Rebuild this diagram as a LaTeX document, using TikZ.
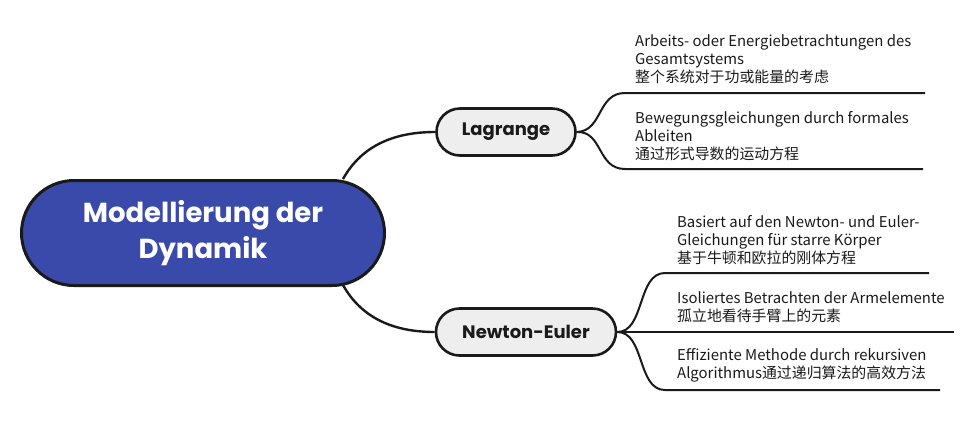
\documentclass[tikz,border=0pt]{standalone}
\usepackage{fontspec}
\setmainfont{Poppins}
\newfontfamily\cjk{Noto Sans CJK SC}
\usetikzlibrary{shapes.misc}
\definecolor{rootblue}{HTML}{3A4AAB}
\definecolor{topicgray}{HTML}{EEEEEE}
\definecolor{inkline}{HTML}{1A1A1A}

\tikzset{
  rootnode/.style={rounded rectangle,draw=inkline,line width=3pt,fill=rootblue,
    text=white,font=\fontsize{27.5}{35.5}\selectfont\bfseries,align=center,
    minimum width=363pt,minimum height=105pt,inner sep=0pt},
  topicnode/.style={rounded rectangle,draw=inkline,line width=2.6pt,fill=topicgray,
    text=inkline,font=\fontsize{18}{22}\selectfont\bfseries,
    minimum height=47pt,inner sep=0pt},
  leaftext/.style={anchor=south west,align=left,inner sep=0pt,text=inkline,
    font=\cjk\fontsize{14.9}{17.8}\selectfont},
  branch/.style={draw=inkline,line width=2.4pt},
  twig/.style={draw=inkline,line width=2pt}
}

\begin{document}
\begin{tikzpicture}[x=1pt,y=-1pt]
\useasboundingbox (0,0) rectangle (978,424);
\node[rootnode] (root) at (203,233) {Modellierung der\\Dynamik};
\node[topicnode,minimum width=139pt] (lag) at (506,132) {Lagrange};
\node[topicnode,minimum width=180pt] (ne) at (526,332) {Newton-Euler};
% Lagrange
\coordinate (l1a) at (625,93);
\coordinate (l1b) at (925,93);
\coordinate (l2a) at (625,169);
\coordinate (l2b) at (923,169);
% Newton-Euler
\coordinate (n1a) at (665,273);
\coordinate (n1b) at (929,273);
\coordinate (n2b) at (954,332);
\coordinate (n3a) at (665,390);
\coordinate (n3b) at (940,390);
\draw[branch] (343,179) .. controls (362,145) and (395,132) .. (lag.west);
\draw[branch] (343,285) .. controls (362,319) and (395,332) .. (ne.west);
\draw[twig] (lag.east) .. controls (603,131) and (597,93) .. (l1a) -- (l1b);
\draw[twig] (lag.east) .. controls (603,131) and (597,169) .. (l2a) -- (l2b);
\draw[twig] (ne.east) .. controls (645,332) and (637,273) .. (n1a) -- (n1b);
\draw[twig] (ne.east) -- (n2b);
\draw[twig] (ne.east) .. controls (645,332) and (637,390) .. (n3a) -- (n3b);
\node[leaftext] (t1) at (635,84) {Arbeits- oder Energiebetrachtungen des\\Gesamtsystems\\整个系统对于功或能量的考虑};
\node[leaftext] (t2) at (635,161) {Bewegungsgleichungen durch formales\\Ableiten\\通过形式导数的运动方程};
\node[leaftext] (t3) at (677,265) {Basiert auf den Newton- und Euler-\\Gleichungen für starre Körper\\基于牛顿和欧拉的刚体方程};
\node[leaftext] (t4) at (677,323) {Isoliertes Betrachten der Armelemente\\孤立地看待手臂上的元素};
\node[leaftext] (t5) at (677,382) {Effiziente Methode durch rekursiven\\Algorithmus通过递归算法的高效方法};
\end{tikzpicture}
\end{document}
